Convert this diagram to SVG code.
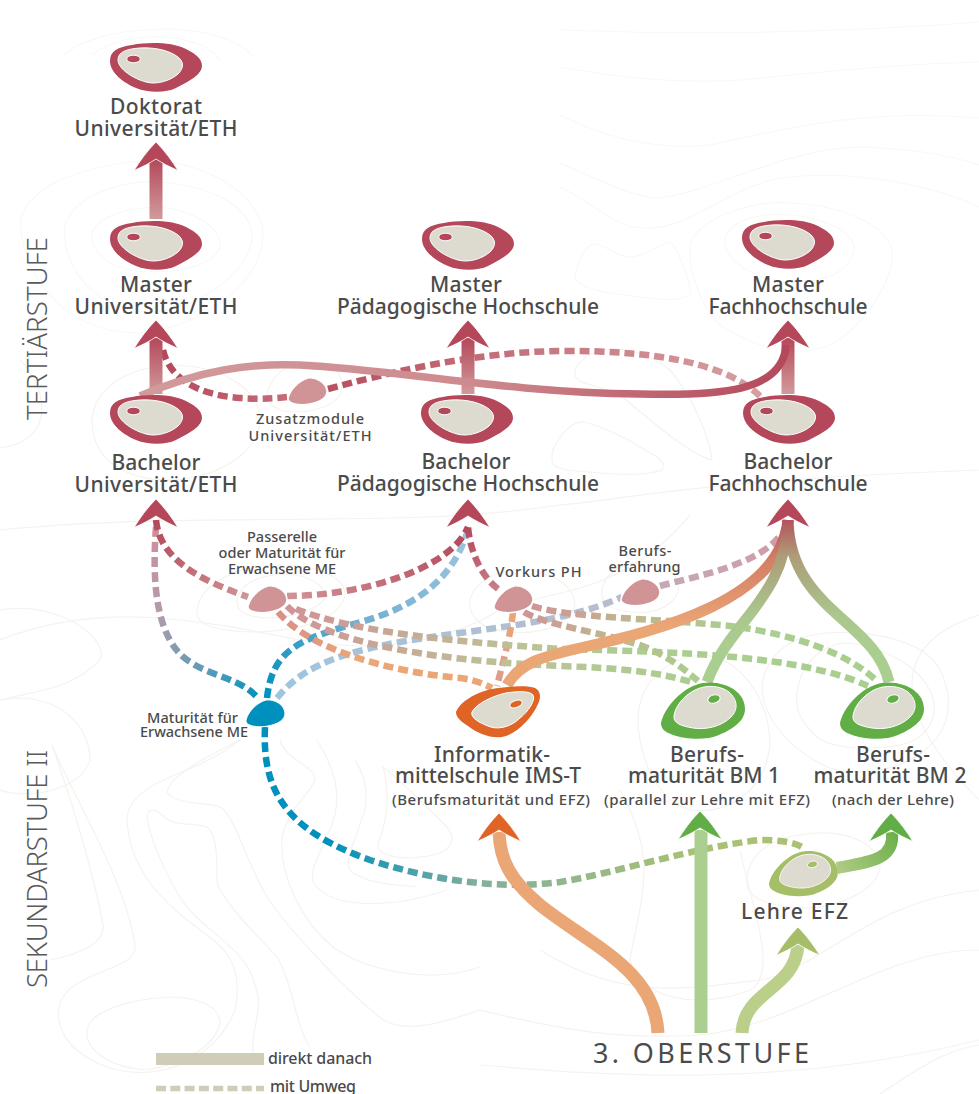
<svg xmlns="http://www.w3.org/2000/svg" width="979" height="1094" viewBox="0 0 979 1094">
<style>
text{font-family:"Noto Sans","Open Sans","Liberation Sans",sans-serif;fill:#4b4b4b;text-anchor:middle}
.l{font-size:21px;font-weight:500}
.m{font-size:15px;font-weight:500}
.s{font-size:14.500px;font-weight:500}
.sec{font-size:27.500px;font-weight:300;fill:#5a5a5a;text-anchor:start}
.leg{font-size:16px;font-weight:500;text-anchor:start}
.ct{fill:none;stroke:#f4f3ee;stroke-width:1.200}
.ct2{fill:none;stroke:#f8f8f6;stroke-width:1.200}
.d{fill:none;stroke-width:6.500;stroke-dasharray:10 5}
.t{fill:none;stroke-width:11}
.inner{fill:#dddbcf;stroke:#fff;stroke-width:1}
.dot{stroke:#fff;stroke-width:1}
.ar{stroke:#fff;stroke-width:.8}
.red{fill:#b4485a}.org{fill:#df6426}.grn{fill:#60ae45}.lim{fill:#a7be69}
.sm{fill:#d09496;stroke:#fff;stroke-width:1.500}
</style>
<defs>
<path id="rOut" d="M0 18C0 8 8 4 22 2C38-1 62-1 76 6C86 11 92 16 92 23C92 31 80 38 66 45C56 50 38 50 26 45C14 40 0 30 0 18Z"/>
<path id="rIn" d="M8 17C8 9 16 6 30 5C46 4 60 8 68 14C74 19 74 25 68 31C60 38 46 42 36 39C24 36 8 26 8 17Z"/>
<g id="blobRed"><use href="#rOut" class="red"/><use href="#rIn" class="inner"/><ellipse cx="23.500" cy="16" rx="6.800" ry="3.800" class="red dot"/></g>
<g id="blobGreen"><path d="M0 42C2 32 10 20 22 11C32 3 44 0 56 2C72 5 84 14 84 28C84 40 72 48 58 54C44 60 24 58 12 54C4 51 0 48 0 42Z"/><path class="inner" d="M13 35C14 26 22 15 34 9C46 3 60 5 68 11C76 18 78 28 70 36C60 46 44 49 32 47C20 45 12 42 13 35Z"/><ellipse class="dot" cx="53" cy="18" rx="6.300" ry="4" transform="rotate(-15 53 18)"/></g>
<path id="small" d="M0 20C2 12 10 3 20 0C28-1 38 4 39 13C39 20 32 24 22 26C12 28-1 26 0 20Z"/>
<path id="ah" d="M0 0C9 9 16 19 22 28.500C14 25 6 21 0 17C-6 21-14 25-22 28.500C-16 19-9 9 0 0Z"/>
<linearGradient id="gs1" gradientUnits="userSpaceOnUse" x1="0" y1="159" x2="0" y2="219"><stop offset="0" stop-color="#b4485a"/><stop offset="1" stop-color="#d19a9b"/></linearGradient>
<linearGradient id="gs2" gradientUnits="userSpaceOnUse" x1="0" y1="338" x2="0" y2="394"><stop offset="0" stop-color="#b4485a"/><stop offset="1" stop-color="#d19a9b"/></linearGradient>
<linearGradient id="gLong" gradientUnits="userSpaceOnUse" x1="142" y1="0" x2="788" y2="0"><stop offset="0" stop-color="#d19a9b"/><stop offset=".5" stop-color="#ce8b8f"/><stop offset="1" stop-color="#b4485a"/></linearGradient>
<linearGradient id="gZ1" gradientUnits="userSpaceOnUse" x1="163" y1="350" x2="287" y2="398"><stop offset="0" stop-color="#b4485a"/><stop offset="1" stop-color="#c46a78"/></linearGradient>
<linearGradient id="gZ2" gradientUnits="userSpaceOnUse" x1="328" y1="0" x2="762" y2="0"><stop offset="0" stop-color="#b8505f"/><stop offset="1" stop-color="#d6a0a2"/></linearGradient>
<linearGradient id="gA" gradientUnits="userSpaceOnUse" x1="156" y1="520" x2="248" y2="597"><stop offset="0" stop-color="#b4485a"/><stop offset="1" stop-color="#d09496"/></linearGradient>
<linearGradient id="gB" gradientUnits="userSpaceOnUse" x1="287" y1="596" x2="468" y2="527"><stop offset="0" stop-color="#d09496"/><stop offset="1" stop-color="#b4485a"/></linearGradient>
<linearGradient id="gC" gradientUnits="userSpaceOnUse" x1="156" y1="527" x2="258" y2="698"><stop offset="0" stop-color="#cf8e9c"/><stop offset=".4" stop-color="#b09bab"/><stop offset=".75" stop-color="#5b9bb9"/><stop offset="1" stop-color="#0090bd"/></linearGradient>
<linearGradient id="gD" gradientUnits="userSpaceOnUse" x1="267" y1="698" x2="468" y2="530"><stop offset="0" stop-color="#0090bd"/><stop offset=".45" stop-color="#72afd0"/><stop offset="1" stop-color="#9ec5de"/></linearGradient>
<linearGradient id="gE" gradientUnits="userSpaceOnUse" x1="277" y1="698" x2="622" y2="597"><stop offset="0" stop-color="#9ec5de"/><stop offset="1" stop-color="#b9bccd"/></linearGradient>
<linearGradient id="gF" gradientUnits="userSpaceOnUse" x1="660" y1="586" x2="782" y2="533"><stop offset="0" stop-color="#c4a9b5"/><stop offset="1" stop-color="#d09ca6"/></linearGradient>
<linearGradient id="gG" gradientUnits="userSpaceOnUse" x1="498" y1="589" x2="468" y2="527"><stop offset="0" stop-color="#c97f88"/><stop offset="1" stop-color="#b4485a"/></linearGradient>
<linearGradient id="gH" gradientUnits="userSpaceOnUse" x1="0" y1="613" x2="0" y2="686"><stop offset="0" stop-color="#eba676"/><stop offset="1" stop-color="#dd9a8c"/></linearGradient>
<linearGradient id="gI" gradientUnits="userSpaceOnUse" x1="278" y1="612" x2="492" y2="688"><stop offset="0" stop-color="#d89088"/><stop offset=".4" stop-color="#eba676"/><stop offset="1" stop-color="#eba676"/></linearGradient>
<linearGradient id="gJ" gradientUnits="userSpaceOnUse" x1="287" y1="0" x2="694" y2="0"><stop offset="0" stop-color="#d09496"/><stop offset=".55" stop-color="#bcc296"/><stop offset="1" stop-color="#aace90"/></linearGradient>
<linearGradient id="gK" gradientUnits="userSpaceOnUse" x1="296" y1="0" x2="868" y2="0"><stop offset="0" stop-color="#d09496"/><stop offset=".4" stop-color="#bcc296"/><stop offset=".6" stop-color="#aace90"/></linearGradient>
<linearGradient id="gL1" gradientUnits="userSpaceOnUse" x1="524" y1="0" x2="698" y2="0"><stop offset="0" stop-color="#d09496"/><stop offset=".5" stop-color="#bcb98f"/><stop offset="1" stop-color="#aace90"/></linearGradient>
<linearGradient id="gL2" gradientUnits="userSpaceOnUse" x1="532" y1="0" x2="878" y2="0"><stop offset="0" stop-color="#d09496"/><stop offset=".3" stop-color="#bfb78f"/><stop offset=".6" stop-color="#aace90"/></linearGradient>
<linearGradient id="gM" gradientUnits="userSpaceOnUse" x1="265" y1="0" x2="803" y2="0"><stop offset="0" stop-color="#0090bd"/><stop offset=".12" stop-color="#0090bd"/><stop offset=".4" stop-color="#84af9b"/><stop offset=".8" stop-color="#a9c173"/><stop offset="1" stop-color="#a9c173"/></linearGradient>
<linearGradient id="gOr" gradientUnits="userSpaceOnUse" x1="0" y1="515" x2="0" y2="640"><stop offset="0" stop-color="#b4485a"/><stop offset=".35" stop-color="#d27f66"/><stop offset=".9" stop-color="#eba676"/></linearGradient>
<linearGradient id="gGr" gradientUnits="userSpaceOnUse" x1="0" y1="515" x2="0" y2="650"><stop offset="0" stop-color="#b4485a"/><stop offset=".3" stop-color="#ad9c78"/><stop offset=".75" stop-color="#aac78e"/><stop offset="1" stop-color="#aace90"/></linearGradient>
<linearGradient id="gLB" gradientUnits="userSpaceOnUse" x1="837" y1="870" x2="892" y2="830"><stop offset="0" stop-color="#b0cb85"/><stop offset="1" stop-color="#6db04b"/></linearGradient>
</defs>

<g id="contours">
<path class="ct2" d="M62 57C90 25 220 15 253 57"/>
<path class="ct2" d="M92 55C120 30 200 30 220 60"/>
<path class="ct2" d="M20 223C25 190 70 170 130 162C190 155 250 185 262 225C270 270 220 320 150 332C80 340 25 290 20 223Z"/>
<path class="ct2" d="M65 225C75 195 120 180 160 182C210 186 252 205 252 238C250 270 200 310 150 312C100 312 60 270 65 225Z"/>
<path class="ct2" d="M92 232C100 215 130 207 160 207C190 210 220 225 220 245C218 262 190 272 150 272C115 272 90 255 92 232Z"/>
<path class="ct2" d="M560 30C640 33 800 36 979 22"/>
<path class="ct2" d="M560 67C620 78 680 84 740 80C820 72 900 64 979 62"/>
<path class="ct2" d="M560 115C610 140 660 150 710 145C780 130 860 108 979 118"/>
<path class="ct2" d="M560 163C600 180 640 200 660 198C720 190 800 140 880 148C920 150 950 155 979 165"/>
<path class="ct2" d="M560 187C590 200 610 225 640 228C690 232 720 190 780 178C840 170 920 180 979 207"/>
<path class="ct2" d="M690 245C695 220 750 200 790 203C840 205 892 225 892 255C892 285 860 330 830 345C790 360 750 345 720 325C700 305 688 270 690 245Z"/>
<path class="ct2" d="M725 238C730 220 760 212 790 215C825 218 855 232 854 250C850 270 830 280 800 282C760 284 722 262 725 238Z"/>
<path class="ct2" d="M575 275C580 255 588 243 596 244C610 248 620 258 632 257C650 255 664 240 672 243C680 255 692 285 690 293C685 302 660 300 640 297C615 294 575 290 575 275Z"/>
<path class="ct" d="M0 448C60 440 45 385 20 360"/>
<path class="ct" d="M92 420C95 385 130 368 170 365C215 365 260 385 260 420C260 455 210 480 170 480C125 480 92 460 92 420Z"/>
<path class="ct" d="M0 530C200 510 400 530 560 505C620 500 700 480 979 470"/>
<path class="ct" d="M0 640C100 600 200 620 300 640C380 655 450 640 500 610C540 590 620 600 690 515"/>
<path class="ct" d="M552 460C550 445 570 420 583 422C600 425 630 440 640 447C655 455 668 462 662 470C640 478 600 473 567 470C558 468 552 466 552 460Z"/>
<path class="ct" d="M575 370C590 340 640 345 670 370C695 400 710 440 712 460C690 455 650 420 620 395C600 385 570 385 575 370Z"/>
<path class="ct" d="M197 610C200 585 235 565 280 565C320 565 345 578 345 595C340 620 300 630 260 632C225 632 195 628 197 610Z"/>
<path class="ct" d="M237 600C240 582 265 572 295 575C315 578 325 588 325 597C320 610 290 618 265 618C245 616 236 612 237 600Z"/>
<path class="ct" d="M470 600C475 580 500 568 530 570C560 575 575 590 575 605C570 625 540 635 510 632C485 630 468 620 470 600Z"/>
<path class="ct" d="M602 590C605 570 630 560 650 562C670 565 680 578 678 592C672 608 650 615 630 612C612 610 600 605 602 590Z"/>
<path class="ct" d="M268 390C275 370 295 360 315 362C340 365 345 380 340 395C330 410 300 415 280 410C270 405 266 400 268 390Z"/>
<path class="ct" d="M0 700C50 690 90 720 90 760C80 790 30 800 0 790"/>
<path class="ct" d="M0 610C60 600 110 640 100 660C70 690 40 690 0 700"/>
<path class="ct" d="M52 745C75 810 95 880 103 925C105 945 75 955 50 960"/>
<path class="ct" d="M52 745C80 810 125 880 135 945C138 965 100 968 75 985C45 1005 55 1050 110 1068C170 1085 220 1050 235 1010C245 960 220 945 200 930C160 900 130 870 127 820C127 795 160 780 187 770C215 758 228 750 240 740"/>
<path class="ct" d="M87 1030C90 1012 125 1000 167 997C195 997 220 1005 220 1023C215 1045 190 1062 147 1070C110 1068 85 1050 87 1030Z"/>
<path class="ct" d="M147 817C148 808 155 808 162 815C175 828 195 822 207 827C218 835 217 865 217 883C225 905 262 940 277 957C292 980 295 1025 310 1047"/>
<path class="ct" d="M147 817C150 840 170 885 187 907C210 935 247 950 255 985C265 1010 250 1030 253 1053"/>
<path class="ct" d="M240 740C210 755 170 775 167 792C175 805 205 802 220 807C235 815 245 860 267 897C285 925 345 990 383 1020C410 1035 450 1020 480 1010"/>
<path class="ct" d="M280 740C285 760 315 765 315 780C310 795 285 810 282 840C280 875 300 920 333 947C365 970 430 985 480 967"/>
<path class="ct" d="M317 740C335 770 340 790 335 815C325 850 305 870 315 885C330 905 380 912 447 890"/>
<path class="ct" d="M355 760C365 775 368 790 365 810C355 840 342 865 352 872C370 885 400 885 417 887"/>
<path class="ct" d="M383 767C390 790 388 820 378 843C375 855 400 860 420 857C450 855 460 840 445 825C430 810 400 780 383 767Z"/>
<path class="ct" d="M763 680C770 650 795 635 827 633C870 630 925 640 940 670C955 700 950 730 925 750C895 775 850 775 827 767C790 750 758 715 763 680Z"/>
<path class="ct" d="M797 693C800 665 820 645 845 643C880 645 920 665 932 695C940 720 925 740 900 745C870 750 830 750 815 735C800 720 795 710 797 693Z"/>
<path class="ct" d="M640 740C630 690 660 660 700 655C740 655 770 700 770 745C765 790 730 815 690 810C660 800 645 770 640 740Z"/>
<path class="ct" d="M620 790C660 860 640 900 630 960C640 1000 700 1010 750 990C780 975 750 900 740 850"/>
<path class="ct" d="M747 880C748 855 770 838 800 835C840 828 875 840 880 865C880 885 850 905 810 908C775 908 745 900 747 880Z"/>
<path class="ct" d="M540 950C620 1000 680 990 760 980C820 970 870 900 979 890"/>
<path class="ct" d="M480 1010C560 1030 620 1040 700 1035C800 1025 880 950 979 950"/>
<path class="ct" d="M480 1065C600 1075 780 1090 979 1040"/>
<path class="ct" d="M979 615C900 640 880 700 979 800"/>
<path class="ct" d="M880 1094C930 1060 950 1050 979 1045"/>
</g>

<g id="connectors">
<path class="d" stroke="url(#gZ1)" d="M163 350C170 380 200 395 240 398C255 399 270 399 287 397"/>
<path class="d" stroke="url(#gZ2)" d="M328 389C380 375 470 352 560 351C660 350 730 365 762 398"/>
<path d="M149.500 159H162.500V219H149.500Z" fill="url(#gs1)"/>
<path d="M149.500 338H162.500V394H149.500Z" fill="url(#gs2)"/>
<path d="M461.500 338H474.500V394H461.500Z" fill="url(#gs2)"/>
<path d="M781.500 338H794.500V394H781.500Z" fill="url(#gs2)"/>
<path fill="none" stroke="url(#gLong)" stroke-width="7.500" d="M140 396C200 370 250 363 300 365C400 370 500 392 640 394C720 396 783 392 786 345"/>
<path class="d" stroke="url(#gC)" d="M156 527C152 580 155 640 190 662C215 678 240 678 258 698"/>
<path class="d" stroke="url(#gE)" d="M277 698C300 670 330 655 400 642C480 628 560 625 622 597"/>
<path class="d" stroke="url(#gF)" d="M660 586C700 575 760 565 782 533"/>
<path class="d" stroke="url(#gD)" d="M267 698C272 650 300 640 350 625C400 612 450 590 468 530"/>
<path class="d" stroke="url(#gA)" d="M156 520C160 560 200 580 248 597"/>
<path class="d" stroke="url(#gB)" d="M287 596C360 596 450 570 468 527"/>
<path class="d" stroke="url(#gG)" d="M498 589C480 575 470 550 468 527"/>
<path class="d" stroke="url(#gH)" d="M513 612C510 640 502 665 497 686"/>
<path class="d" stroke="url(#gI)" d="M278 612C310 650 390 672 460 678C475 680 482 683 492 688"/>
<path class="d" stroke="url(#gJ)" d="M287 606C320 640 420 660 560 666C620 668 660 672 694 683"/>
<path class="d" stroke="url(#gK)" d="M296 609C350 630 430 640 560 649C680 652 800 655 868 686"/>
<path class="d" stroke="url(#gL1)" d="M524 612C545 625 600 632 640 645C665 655 680 665 698 681"/>
<path class="d" stroke="url(#gL2)" d="M532 606C570 618 650 618 730 626C800 635 850 655 878 682"/>
<path class="d" stroke="url(#gM)" d="M265 727C262 790 285 830 370 860C430 880 500 890 560 882C620 872 690 848 760 840C780 840 795 842 804 848"/>
<path class="t" stroke="url(#gOr)" d="M507 685C520 662 545 656 580 648C660 630 780 600 788 520"/>
<path class="t" stroke="url(#gGr)" d="M707 682C730 620 785 600 788 520"/>
<path class="t" stroke="url(#gGr)" d="M889 682C875 620 790 610 788 520"/>
<path fill="none" stroke="#eba676" stroke-width="13" d="M658 1033C655 970 590 945 540 905C510 880 500 860 499 832"/>
<path fill="none" stroke="#abcf90" stroke-width="13" d="M701 1033V830"/>
<path fill="none" stroke="#bbcf8a" stroke-width="13" d="M742 1033C744 990 795 990 798 945"/>
<path fill="none" stroke="url(#gLB)" stroke-width="12" d="M837 868C870 862 895 860 892 832"/>
<use href="#ah" class="red ar" x="156" y="142"/>
<use href="#ah" class="red ar" x="156" y="320"/>
<use href="#ah" class="red ar" x="468" y="320"/>
<use href="#ah" class="red ar" x="788" y="320"/>
<use href="#ah" class="red ar" x="156" y="499"/>
<use href="#ah" class="red ar" x="468" y="499"/>
<use href="#ah" class="red ar" x="788" y="499"/>
<use href="#ah" class="org ar" x="499" y="813"/>
<use href="#ah" class="grn ar" x="700" y="811"/>
<use href="#ah" class="grn ar" x="891" y="813"/>
<use href="#ah" class="lim ar" x="798" y="927"/>
</g>

<g id="node-doktorat"><use href="#blobRed" x="110" y="43"/><text class="l" x="156" y="114" textLength="92">Doktorat</text><text class="l" x="156" y="136" textLength="163">Universität/ETH</text></g>
<g id="node-master-uni"><use href="#blobRed" x="110" y="221"/><text class="l" x="156" y="292" textLength="72">Master</text><text class="l" x="156" y="314" textLength="163">Universität/ETH</text></g>
<g id="node-master-ph"><use href="#blobRed" x="422" y="221"/><text class="l" x="466" y="292" textLength="72">Master</text><text class="l" x="468" y="314" textLength="262">Pädagogische Hochschule</text></g>
<g id="node-master-fh"><use href="#blobRed" x="742" y="220"/><text class="l" x="788" y="292" textLength="72">Master</text><text class="l" x="788" y="314" textLength="159">Fachhochschule</text></g>
<g id="node-bachelor-uni"><use href="#blobRed" x="110" y="395"/><text class="l" x="156" y="470" textLength="89">Bachelor</text><text class="l" x="156" y="492" textLength="163">Universität/ETH</text></g>
<g id="node-bachelor-ph"><use href="#blobRed" x="421" y="395"/><text class="l" x="466" y="469" textLength="89">Bachelor</text><text class="l" x="468" y="491" textLength="262">Pädagogische Hochschule</text></g>
<g id="node-bachelor-fh"><use href="#blobRed" x="743" y="395"/><text class="l" x="788" y="469" textLength="89">Bachelor</text><text class="l" x="788" y="491" textLength="159">Fachhochschule</text></g>

<g id="node-zusatz"><use href="#small" class="sm" x="288" y="378"/><text class="s" x="310" y="424" textLength="108">Zusatzmodule</text><text class="s" x="310" y="441" textLength="123">Universität/ETH</text></g>
<g id="node-passerelle"><use href="#small" class="sm" x="248" y="586"/><text class="s" x="282" y="542" textLength="70">Passerelle</text><text class="s" x="282" y="558" textLength="127">oder Maturität für</text><text class="s" x="282" y="574" textLength="108">Erwachsene ME</text></g>
<g id="node-vorkurs"><use href="#small" class="sm" x="494" y="586"/><text class="s" x="538.500" y="577" textLength="86">Vorkurs PH</text></g>
<g id="node-berufserfahrung"><use href="#small" class="sm" x="621" y="579"/><text class="s" x="645" y="556" textLength="53">Berufs-</text><text class="s" x="644.500" y="572" textLength="72">erfahrung</text></g>
<g id="node-maturitaet-me"><use href="#small" x="246" y="700" fill="#0090bd" stroke="#fff" stroke-width="1"/><text class="s" x="192.500" y="723" textLength="91">Maturität für</text><text class="s" x="194" y="737" textLength="108">Erwachsene ME</text></g>

<g id="node-ims">
<path fill="#df6426" d="M456 712C460 702 476 692 492 689C508 686 528 685 535 688C541 691 541 698 538 704C532 718 518 732 506 736C494 740 478 734 468 726C462 722 456 718 456 712Z"/>
<path class="inner" d="M472 712C476 704 492 696 506 693C518 691 530 691 533 695C536 700 528 712 520 718C510 728 496 730 488 726C480 723 470 718 472 712Z"/>
<ellipse fill="#df6426" class="dot" cx="516" cy="704" rx="6.500" ry="3.500" transform="rotate(-20 516 704)"/>
<text class="l" x="492" y="762" textLength="116">Informatik-</text><text class="l" x="488" y="783" textLength="186">mittelschule IMS-T</text><text class="m" x="491" y="805" textLength="198">(Berufsmaturität und EFZ)</text>
</g>
<g id="node-bm1"><use href="#blobGreen" fill="#60ae45" x="661" y="681"/><text class="l" x="707" y="762" textLength="74">Berufs-</text><text class="l" x="704" y="783" textLength="152">maturität BM 1</text><text class="m" x="707" y="805" textLength="206">(parallel zur Lehre mit EFZ)</text></g>
<g id="node-bm2"><use href="#blobGreen" fill="#60ae45" x="840" y="681"/><text class="l" x="893" y="762" textLength="74">Berufs-</text><text class="l" x="890" y="783" textLength="153">maturität BM 2</text><text class="m" x="893" y="805" textLength="122">(nach der Lehre)</text></g>
<g id="node-lehre"><use href="#blobGreen" fill="#a7be69" transform="translate(769 850) scale(.82 .8)"/><text class="l" x="794.500" y="919" textLength="107">Lehre EFZ</text></g>
<g id="node-oberstufe"><text x="701" y="1063" textLength="216" style="font-size:27px;font-weight:400">3. OBERSTUFE</text></g>

<g id="sections">
<text class="sec" transform="translate(47 420) rotate(-90)" textLength="183">TERTIÄRSTUFE</text>
<text class="sec" transform="translate(47 988) rotate(-90)" textLength="238">SEKUNDARSTUFE II</text>
</g>
<g id="legend">
<rect x="156" y="1053" width="108" height="12" fill="#cfcdb8"/>
<text class="leg" x="268" y="1064" textLength="104">direkt danach</text>
<path d="M156 1088.500H264" fill="none" stroke="#cfcdb8" stroke-width="5.500" stroke-dasharray="10 4.300"/>
<text class="leg" x="270" y="1092" textLength="86">mit Umweg</text>
</g>
</svg>
